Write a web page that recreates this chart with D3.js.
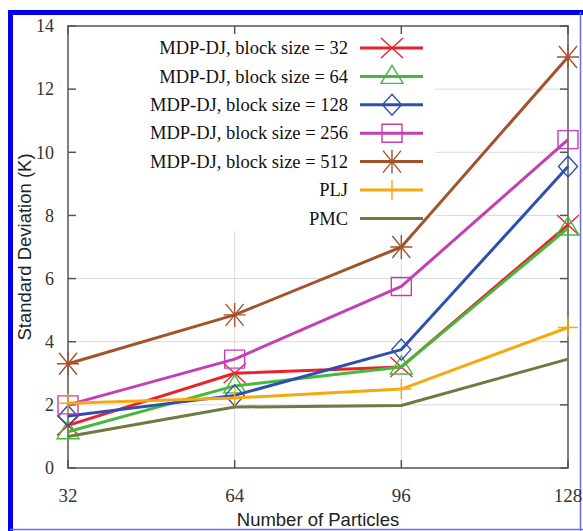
<!DOCTYPE html>
<html>
<head>
<meta charset="utf-8">
<script src="https://cdn.jsdelivr.net/npm/d3@7"></script>
<style>
  body { margin: 0; background: #fff; }
  svg { display: block; }
</style>
</head>
<body>
<script>
const width = 583, height = 531;

// data
const particles = [32, 64, 96, 128];
const seriesNames = ["MDP-DJ, block size = 32", "MDP-DJ, block size = 64", "MDP-DJ, block size = 128",
                     "MDP-DJ, block size = 256", "MDP-DJ, block size = 512", "PLJ", "PMC"];
const bs32  = [1.35, 3.0, 3.2, 7.7];
const bs64  = [1.15, 2.6, 3.2, 7.6];
const bs128 = [1.65, 2.3, 3.75, 9.55];
const bs256 = [2.0, 3.45, 5.75, 10.4];
const bs512 = [3.3, 4.85, 7.0, 13.02];
const plj   = [2.05, 2.22, 2.5, 4.45];
const pmc   = [1.0, 1.93, 1.98, 3.45];
const yTicks = [0, 2, 4, 6, 8, 10, 12, 14];

const colors = ["#e8232b", "#46b83c", "#2f4fb0", "#c23fb4", "#a3532c", "#f6a80f", "#6e7a40"];
const markers = ["cross", "triangle", "diamond", "square", "star", "plus", null];
const allSeries = [bs32, bs64, bs128, bs256, bs512, plj, pmc];

const margin = {left: 68, top: 26, right: 15, bottom: 63};
const x = d3.scaleLinear().domain([32, 128]).range([margin.left, width - margin.right]);
const y = d3.scaleLinear().domain([0, 14]).range([height - margin.bottom, margin.top]);

const svg = d3.select("body").append("svg").attr("width", width).attr("height", height);

// blue frame around the figure
svg.append("path").attr("d", "M10.5,531 V12.5 H583").attr("fill", "none")
    .attr("stroke", "#0000f0").attr("stroke-width", 5);
svg.append("line").attr("x1", 580.5).attr("x2", 580.5).attr("y1", 12).attr("y2", 531)
    .attr("stroke", "#6b6bf5").attr("stroke-width", 1.5);
svg.append("line").attr("x1", 10).attr("x2", 583).attr("y1", 529.5).attr("y2", 529.5)
    .attr("stroke", "#6b6bf5").attr("stroke-width", 1.5);

// grid
const grid = svg.append("g").attr("stroke", "#dadada").attr("stroke-width", 1);
grid.selectAll(".gy").data(yTicks.slice(1, -1)).enter().append("line")
    .attr("x1", x(32)).attr("x2", x(128)).attr("y1", d => y(d)).attr("y2", d => y(d));
grid.selectAll(".gx").data(particles.slice(1, -1)).enter().append("line")
    .attr("x1", d => x(d)).attr("x2", d => x(d)).attr("y1", y(0)).attr("y2", y(14));

// legend background hides the grid
const legX = 348, legY0 = 48, legStep = 28.4;
svg.append("rect").attr("x", x(32) + 1).attr("y", y(14) + 1).attr("width", 435 - x(32) - 1).attr("height", 230 - y(14))
    .attr("fill", "#fff");

// frame and ticks
const axisColor = "#555";
svg.append("rect").attr("x", x(32)).attr("y", y(14)).attr("width", x(128) - x(32)).attr("height", y(0) - y(14))
    .attr("fill", "none").attr("stroke", axisColor).attr("stroke-width", 1.5);
const tl = 8;
const ticks = svg.append("g").attr("stroke", axisColor).attr("stroke-width", 1.5);
yTicks.forEach(t => {
    ticks.append("line").attr("x1", x(32)).attr("x2", x(32) + tl).attr("y1", y(t)).attr("y2", y(t));
    ticks.append("line").attr("x1", x(128)).attr("x2", x(128) - tl).attr("y1", y(t)).attr("y2", y(t));
});
particles.forEach(t => {
    ticks.append("line").attr("x1", x(t)).attr("x2", x(t)).attr("y1", y(0)).attr("y2", y(0) - tl);
    ticks.append("line").attr("x1", x(t)).attr("x2", x(t)).attr("y1", y(14)).attr("y2", y(14) + tl);
});

const serif = "'Liberation Serif', 'Times New Roman', serif";
const sans = "'Liberation Sans', Arial, sans-serif";
svg.append("g").selectAll("text").data(yTicks).enter().append("text")
    .attr("x", 54).attr("y", d => y(d)).attr("dy", "0.35em").attr("text-anchor", "end")
    .attr("font-family", serif).attr("font-size", 18).attr("fill", "#333").text(d => d);
svg.append("g").selectAll("text").data(particles).enter().append("text")
    .attr("x", d => x(d)).attr("y", 502).attr("text-anchor", "middle")
    .attr("font-family", serif).attr("font-size", 19).attr("fill", "#333").text(d => d);

svg.append("text").attr("x", (x(32) + x(128)) / 2).attr("y", 526).attr("text-anchor", "middle")
    .attr("font-family", sans).attr("font-size", 18.5).attr("fill", "#222").text("Number of Particles");
svg.append("text").attr("transform", `translate(31, ${(y(0) + y(14)) / 2}) rotate(-90)`)
    .attr("text-anchor", "middle").attr("font-family", sans).attr("font-size", 18.5).attr("fill", "#222")
    .text("Standard Deviation (K)");

// marker shapes
function markerPath(type) {
    switch (type) {
        case "cross": return "M-11,-10L11,10M-11,10L11,-10";
        case "triangle": return "M0,-11L11,7L-11,7Z";
        case "diamond": return "M0,-10.5L9.5,0L0,10.5L-9.5,0Z";
        case "square": return "M-10,-9H10V9H-10Z";
        case "star": return "M-9,-11L9,11M-9,11L9,-11M0,-12V12M-11,0H11";
        case "plus": return "M0,-10V10M-10,0H10";
    }
    return "";
}

const line = d3.line().x((d, i) => x(particles[i])).y(d => y(d));
allSeries.forEach((vals, k) => {
    const g = svg.append("g");
    g.append("path").datum(vals).attr("d", line).attr("fill", "none")
        .attr("stroke", colors[k]).attr("stroke-width", 3).attr("stroke-linejoin", "round");
    if (markers[k]) {
        g.selectAll("path.m").data(vals).enter().append("path").attr("class", "m")
            .attr("transform", (d, i) => `translate(${x(particles[i])},${y(d)})`)
            .attr("d", markerPath(markers[k])).attr("fill", "none")
            .attr("stroke", colors[k]).attr("stroke-width", 1.4);
    }
});

// legend
const leg = svg.append("g");
seriesNames.forEach((name, k) => {
    const yy = legY0 + k * legStep;
    leg.append("text").attr("x", legX).attr("y", yy).attr("dy", "0.33em").attr("text-anchor", "end")
        .attr("font-family", serif).attr("font-size", 18.5).attr("fill", "#111").text(name);
    leg.append("line").attr("x1", 360).attr("x2", 423).attr("y1", yy).attr("y2", yy)
        .attr("stroke", colors[k]).attr("stroke-width", 3);
    if (markers[k]) {
        leg.append("path").attr("transform", `translate(392,${yy})`).attr("d", markerPath(markers[k]))
            .attr("fill", "none").attr("stroke", colors[k]).attr("stroke-width", 1.4);
    }
});
</script>
</body>
</html>
